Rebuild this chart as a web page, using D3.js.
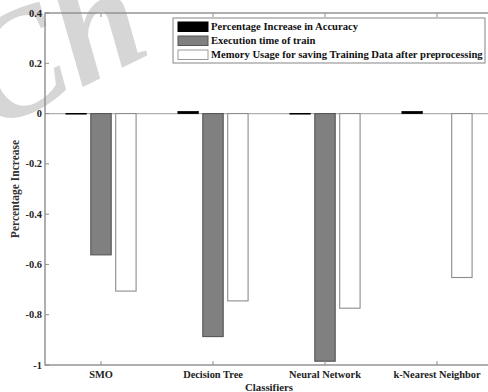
<!DOCTYPE html>
<html>
<head>
<meta charset="utf-8">
<script src="https://cdn.jsdelivr.net/npm/d3@7"></script>
<style>
  html, body { margin: 0; padding: 0; background: #fff; }
  svg { display: block; }
  text { font-family: "Liberation Serif", "Times New Roman", serif; }
</style>
</head>
<body>
<script>
// Classifier comparison: change relative to the unprocessed baseline
const classifiers = ["SMO", "Decision Tree", "Neural Network", "k-Nearest Neighbor"];
const seriesNames = [
  "Percentage Increase in Accuracy",
  "Execution time of train",
  "Memory Usage for saving Training Data after preprocessing"
];
const accuracyIncrease = [-0.002, 0.008, -0.002, 0.008];
const trainTime = [-0.562, -0.887, -0.985, 0];
const memoryUsage = [-0.706, -0.745, -0.774, -0.652];
const yTicks = [0.4, 0.2, 0, -0.2, -0.4, -0.6, -0.8, -1];

const series = [accuracyIncrease, trainTime, memoryUsage];
const fills = ["#000000", "#808080", "#ffffff"];
const strokes = ["#000000", "#555555", "#8c8c8c"];

const W = 488, H = 392;
const svg = d3.select("body").append("svg").attr("width", W).attr("height", H);

// faint watermark glyphs in the upper-left corner
svg.append("text")
  .attr("transform", "translate(-10,132) rotate(-26)")
  .attr("font-family", "DejaVu Sans")
  .attr("font-style", "italic")
  .attr("font-weight", "bold")
  .attr("font-size", 150)
  .attr("fill", "#d6d6d6")
  .text("Ch");

const x = d3.scaleLinear().domain([0.5, 4.5]).range([45, 493]);
const y = d3.scaleLinear().domain([-1, 0.4]).range([365, 13]);

const axisColor = "#8e8e8e";
const tickLen = 4;

// grouped bar geometry (3 series per category)
const groupWidth = 3 / 4.5;
const step = groupWidth / 3;
const barW = step * 0.82;

// zero baseline
svg.append("line")
  .attr("x1", x(0.5)).attr("x2", x(4.5))
  .attr("y1", y(0)).attr("y2", y(0))
  .attr("stroke", "#b0b0b0").attr("stroke-width", 1.2);

series.forEach((vals, s) => {
  svg.append("g").selectAll("rect")
    .data(vals)
    .join("rect")
    .attr("x", (d, i) => x(i + 1 + (s - 1) * step - barW / 2))
    .attr("width", x(barW) - x(0))
    .attr("y", d => y(Math.max(0, d)))
    .attr("height", d => Math.abs(y(d) - y(0)))
    .attr("fill", fills[s])
    .attr("stroke", (d) => d === 0 ? "none" : strokes[s])
    .attr("stroke-width", s === 0 ? 0.8 : 1.1);
});

// axes box
const gAxes = svg.append("g");
gAxes.append("rect")
  .attr("x", x(0.5)).attr("y", y(0.4))
  .attr("width", x(4.5) - x(0.5)).attr("height", y(-1) - y(0.4))
  .attr("fill", "none").attr("stroke", axisColor).attr("stroke-width", 1.4);

// y ticks (inward, both sides) with labels
yTicks.forEach(t => {
  gAxes.append("line")
    .attr("x1", x(0.5)).attr("x2", x(0.5) + tickLen)
    .attr("y1", y(t)).attr("y2", y(t))
    .attr("stroke", axisColor).attr("stroke-width", 1);
  gAxes.append("line")
    .attr("x1", x(4.5)).attr("x2", x(4.5) - tickLen)
    .attr("y1", y(t)).attr("y2", y(t))
    .attr("stroke", axisColor).attr("stroke-width", 1);
  gAxes.append("text")
    .attr("x", x(0.5) - 3).attr("y", y(t))
    .attr("dy", "0.35em")
    .attr("text-anchor", "end")
    .attr("font-size", 10.4).attr("font-weight", "bold")
    .attr("fill", "#222")
    .text(t === 0 ? "0" : String(t));
});

// x ticks (inward, top and bottom) with category labels
classifiers.forEach((c, i) => {
  gAxes.append("line")
    .attr("x1", x(i + 1)).attr("x2", x(i + 1))
    .attr("y1", y(-1)).attr("y2", y(-1) - tickLen)
    .attr("stroke", axisColor).attr("stroke-width", 1);
  gAxes.append("line")
    .attr("x1", x(i + 1)).attr("x2", x(i + 1))
    .attr("y1", y(0.4)).attr("y2", y(0.4) + tickLen)
    .attr("stroke", axisColor).attr("stroke-width", 1);
  gAxes.append("text")
    .attr("x", x(i + 1)).attr("y", y(-1) + 13)
    .attr("text-anchor", "middle")
    .attr("font-size", 10.4).attr("font-weight", "bold")
    .attr("fill", "#222")
    .text(c);
});

// axis titles
svg.append("text")
  .attr("x", (x(0.5) + x(4.5)) / 2).attr("y", 390.5)
  .attr("text-anchor", "middle")
  .attr("font-size", 10.8).attr("font-weight", "bold")
  .attr("fill", "#222")
  .text("Classifiers");

svg.append("text")
  .attr("transform", `translate(19,${(y(0.4) + y(-1)) / 2}) rotate(-90)`)
  .attr("text-anchor", "middle")
  .attr("font-size", 11.5).attr("font-weight", "bold")
  .attr("fill", "#333")
  .text("Percentage Increase");

// legend
const lg = svg.append("g").attr("transform", "translate(173,18)");
lg.append("rect")
  .attr("x", 0).attr("y", 0).attr("width", 312).attr("height", 45)
  .attr("fill", "#fff").attr("stroke", "#9a9a9a").attr("stroke-width", 1.2);
seriesNames.forEach((name, s) => {
  const ry = 4 + s * 14;
  lg.append("rect")
    .attr("x", 5).attr("y", ry).attr("width", 30).attr("height", 9.5)
    .attr("fill", fills[s]).attr("stroke", s === 2 ? "#9a9a9a" : strokes[s]).attr("stroke-width", 1);
  lg.append("text")
    .attr("x", 38).attr("y", ry + 4.75)
    .attr("dy", "0.35em")
    .attr("font-size", 10.6).attr("font-weight", "bold")
    .attr("fill", "#111")
    .text(name);
});
</script>
</body>
</html>
